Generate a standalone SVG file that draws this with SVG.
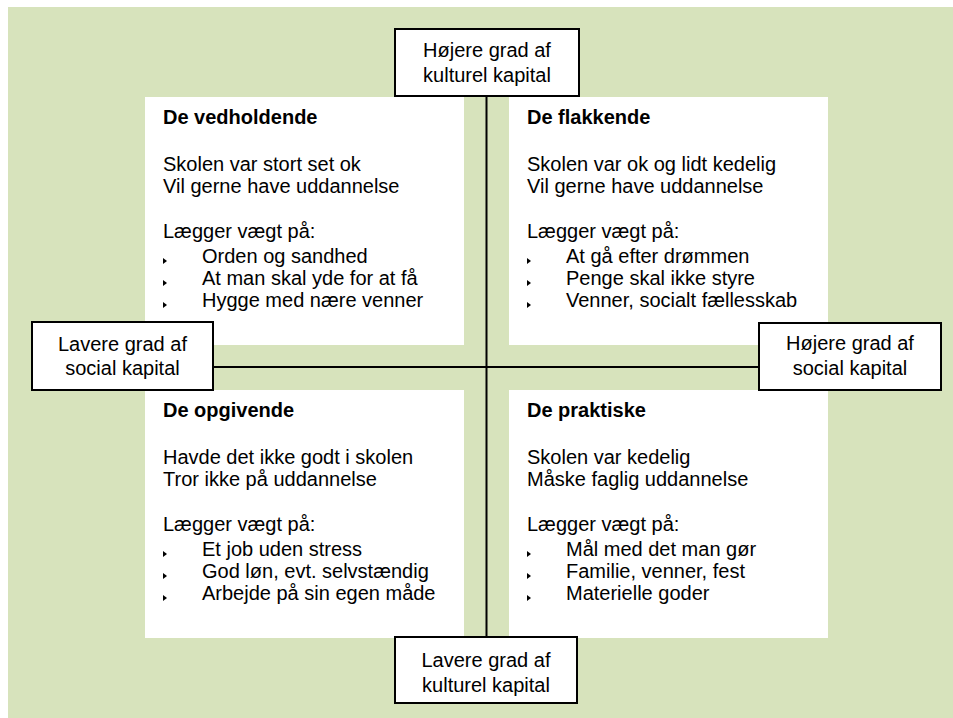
<svg xmlns="http://www.w3.org/2000/svg" xmlns:xlink="http://www.w3.org/1999/xlink" width="953" height="718" viewBox="0 0 953 718">
<style>
text{font-family:"Liberation Sans",Arial,sans-serif;font-size:20px;fill:#000}
.t{font-weight:bold}
.c{text-anchor:middle}
.panel{fill:#fff}
.box{fill:#fff;stroke:#000;stroke-width:2}
.ln{stroke:#000;stroke-width:2;fill:none}
</style>
<defs>
<polygon id="b" points="0,-5 4,-2 0,1" fill="#000"/>
</defs>
<rect x="8" y="7" width="945" height="711" fill="#d7e3bc"/>
<g id="panel-tl">
<rect class="panel" x="145" y="97" width="319" height="248"/>
<text class="t" x="163" y="124">De vedholdende</text>
<text x="163" y="171">Skolen var stort set ok</text>
<text x="163" y="193">Vil gerne have uddannelse</text>
<text x="163" y="238">Lægger vægt på:</text>
<use xlink:href="#b" x="163" y="263"/><text x="202" y="263">Orden og sandhed</text>
<use xlink:href="#b" x="163" y="285"/><text x="202" y="285">At man skal yde for at få</text>
<use xlink:href="#b" x="163" y="307"/><text x="202" y="307">Hygge med nære venner</text>
</g>
<g id="panel-tr">
<rect class="panel" x="509" y="97" width="319" height="248"/>
<text class="t" x="527" y="124">De flakkende</text>
<text x="527" y="171">Skolen var ok og lidt kedelig</text>
<text x="527" y="193">Vil gerne have uddannelse</text>
<text x="527" y="238">Lægger vægt på:</text>
<use xlink:href="#b" x="527" y="263"/><text x="566" y="263">At gå efter drømmen</text>
<use xlink:href="#b" x="527" y="285"/><text x="566" y="285">Penge skal ikke styre</text>
<use xlink:href="#b" x="527" y="307"/><text x="566" y="307">Venner, socialt fællesskab</text>
</g>
<g id="panel-bl">
<rect class="panel" x="145" y="390" width="319" height="248"/>
<text class="t" x="163" y="417">De opgivende</text>
<text x="163" y="464">Havde det ikke godt i skolen</text>
<text x="163" y="486">Tror ikke på uddannelse</text>
<text x="163" y="531">Lægger vægt på:</text>
<use xlink:href="#b" x="163" y="556"/><text x="202" y="556">Et job uden stress</text>
<use xlink:href="#b" x="163" y="578"/><text x="202" y="578">God løn, evt. selvstændig</text>
<use xlink:href="#b" x="163" y="600"/><text x="202" y="600">Arbejde på sin egen måde</text>
</g>
<g id="panel-br">
<rect class="panel" x="509" y="390" width="319" height="248"/>
<text class="t" x="527" y="417">De praktiske</text>
<text x="527" y="464">Skolen var kedelig</text>
<text x="527" y="486">Måske faglig uddannelse</text>
<text x="527" y="531">Lægger vægt på:</text>
<use xlink:href="#b" x="527" y="556"/><text x="566" y="556">Mål med det man gør</text>
<use xlink:href="#b" x="527" y="578"/><text x="566" y="578">Familie, venner, fest</text>
<use xlink:href="#b" x="527" y="600"/><text x="566" y="600">Materielle goder</text>
</g>
<g id="connectors">
<line class="ln" x1="486.5" y1="96" x2="486.5" y2="637"/>
<line class="ln" x1="213" y1="367" x2="759" y2="367"/>
</g>
<g id="box-top">
<rect class="box" x="395" y="29" width="184" height="67"/>
<text class="c" x="487" y="57">Højere grad af</text>
<text class="c" x="487" y="82">kulturel kapital</text>
</g>
<g id="box-bottom">
<rect class="box" x="395" y="637" width="182" height="66"/>
<text class="c" x="486" y="667">Lavere grad af</text>
<text class="c" x="486" y="692">kulturel kapital</text>
</g>
<g id="box-left">
<rect class="box" x="32" y="322" width="181" height="68"/>
<text class="c" x="122.5" y="351">Lavere grad af</text>
<text class="c" x="122.5" y="375">social kapital</text>
</g>
<g id="box-right">
<rect class="box" x="759" y="323" width="182" height="67"/>
<text class="c" x="850" y="350">Højere grad af</text>
<text class="c" x="850" y="375">social kapital</text>
</g>
</svg>
